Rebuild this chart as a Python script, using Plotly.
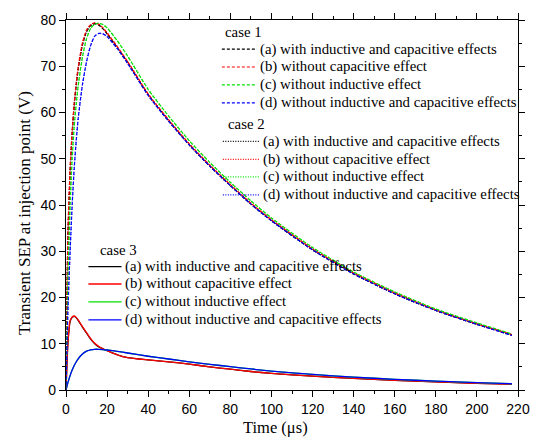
import plotly.graph_objects as go

# Time axis (µs)
t = [0, 0.5, 1, 2, 3, 4, 5, 6, 8, 10, 12, 14, 16, 18, 20, 25, 30, 40, 50, 60,
     70, 80, 90, 100, 120, 140, 160, 180, 200, 217]

# Case 1 (dashed)
c1_a = [0, 21, 34, 47, 55.5, 61.5, 66, 69.6, 74.6, 77.5, 78.8, 79.2, 78.9, 78.1, 77.0,
        74.0, 70.8, 63.8, 58.2, 53.0, 48.4, 44.2, 40.2, 36.6, 30.3, 25.1, 20.8, 17.2, 14.2, 11.9]
c1_b = [0, 22, 35, 48, 56, 62, 66.5, 70, 75, 77.8, 79, 79.4, 79.1, 78.3, 77.2,
        74.2, 71.0, 64.0, 58.4, 53.2, 48.6, 44.4, 40.4, 36.8, 30.5, 25.3, 21.0, 17.3, 14.3, 12.0]
c1_c = [0, 14, 25, 40, 50, 57, 62, 66, 72, 76, 78.2, 79.1, 79.3, 79.0, 78.3,
        75.5, 72.2, 65.0, 59.2, 53.9, 49.2, 44.9, 40.9, 37.2, 30.8, 25.5, 21.2, 17.5, 14.5, 12.1]
c1_d = [0, 10, 18, 30, 40, 48, 54, 59, 66, 71, 74.5, 76.5, 77.1, 77.0, 76.4,
        73.8, 70.6, 63.7, 58.1, 53.0, 48.4, 44.2, 40.2, 36.6, 30.3, 25.1, 20.8, 17.2, 14.2, 11.8]

# Case 2 (dotted)
c2_a = [0, 21, 34, 47, 55.5, 61.5, 66, 69.6, 74.6, 77.5, 78.8, 79.2, 78.9, 78.1, 77.0,
        74.0, 70.8, 63.8, 58.2, 53.0, 48.4, 44.2, 40.2, 36.6, 30.3, 25.1, 20.8, 17.2, 14.2, 11.9]
c2_b = [0, 22, 35, 48, 56, 62, 66.5, 70, 75, 77.8, 79, 79.4, 79.1, 78.3, 77.2,
        74.2, 71.0, 64.0, 58.4, 53.2, 48.6, 44.4, 40.4, 36.8, 30.5, 25.3, 21.0, 17.3, 14.3, 12.0]
c2_c = [0, 14, 25, 40, 50, 57, 62, 66, 72, 76, 78.2, 79.1, 79.3, 79.0, 78.3,
        75.5, 72.2, 65.0, 59.2, 53.9, 49.2, 44.9, 40.9, 37.2, 30.8, 25.5, 21.2, 17.5, 14.5, 12.1]
c2_d = [0, 10, 18, 30, 40, 48, 54, 59, 66, 71, 74.5, 76.5, 77.1, 77.0, 76.4,
        73.8, 70.6, 63.7, 58.1, 53.0, 48.4, 44.2, 40.2, 36.6, 30.3, 25.1, 20.8, 17.2, 14.2, 11.8]

# Case 3 (solid)
c3_a = [0, 6, 10.5, 14.8, 15.7, 15.9, 15.6, 15.0, 13.6, 12.3, 11.0, 10.0, 9.3, 8.9, 8.5,
        7.6, 7.0, 6.5, 6.1, 5.6, 5.0, 4.5, 4.0, 3.6, 3.0, 2.5, 2.1, 1.75, 1.45, 1.25]
c3_b = [0, 6.2, 10.8, 15.0, 15.8, 16.0, 15.7, 15.1, 13.7, 12.4, 11.1, 10.1, 9.4, 8.9, 8.5,
        7.6, 7.0, 6.5, 6.1, 5.6, 5.0, 4.5, 4.0, 3.6, 3.0, 2.5, 2.1, 1.75, 1.45, 1.25]
c3_c = [0, 0.9, 1.7, 3.1, 4.3, 5.3, 6.1, 6.8, 7.8, 8.4, 8.7, 8.8, 8.8, 8.75, 8.65,
        8.35, 8.0, 7.3, 6.7, 6.1, 5.55, 5.05, 4.55, 4.1, 3.37, 2.79, 2.31, 1.91, 1.58, 1.35]
c3_d = [0, 0.9, 1.7, 3.1, 4.3, 5.3, 6.1, 6.8, 7.8, 8.4, 8.7, 8.8, 8.8, 8.75, 8.65,
        8.35, 8.0, 7.3, 6.7, 6.1, 5.55, 5.05, 4.55, 4.1, 3.37, 2.79, 2.31, 1.91, 1.58, 1.35]

labels = ["(a) with inductive and capacitive effects",
          "(b) without capacitive effect",
          "(c) without inductive effect",
          "(d) without inductive and capacitive effects"]
colors = ["#000000", "#ff0000", "#00e000", "#0000ff"]
case_titles = ["case 1", "case 2", "case 3"]

SERIF = "Liberation Serif, Times New Roman, serif"
SANS = "Liberation Sans, Arial, sans-serif"

W, H = 542, 445
ML, MR, MT, MB = 66, 12, 12, 55
PW, PH = W - ML - MR, H - MT - MB


def px(xp):
    return (xp - ML) / PW


def py(yp):
    return (H - MB - yp) / PH


fig = go.Figure()

styles = [
    ("3px,2px", 1.2),      # case 1
    ("1px,1.5px", 1.2),    # case 2
    ("solid", 1.3),        # case 3
]
all_cases = [
    [c1_a, c1_b, c1_c, c1_d],
    [c2_a, c2_b, c2_c, c2_d],
    [c3_a, c3_b, c3_c, c3_d],
]
for ci in [2, 1, 0]:
    dash, w = styles[ci]
    for y, lab, col in zip(all_cases[ci], labels, colors):
        fig.add_trace(go.Scatter(
            x=t, y=y, mode="lines", name=f"{case_titles[ci]} {lab}", showlegend=False,
            line=dict(color=col, width=w, dash=dash, shape="spline", smoothing=0.6),
        ))

# Hand-built legends (title position, row y positions, line x span, text x)
legend_layout = [
    dict(title=(227, 24), rows=[41.7, 60, 78.3, 96.7], line=(226, 262), text=264),
    dict(title=(230, 118), rows=[136, 154.3, 172.3, 190.7], line=(227, 265), text=267),
    dict(title=(99, 247), rows=[264, 281.7, 300, 318.3], line=(89, 123), text=126),
]
LEGFONT = dict(family=SERIF, size=14.8, color="black")
shapes = []
annotations = []
for ci, lg in enumerate(legend_layout):
    dash, w = styles[ci]
    annotations.append(dict(
        x=px(lg["title"][0]), y=py(lg["title"][1]), xref="paper", yref="paper",
        text=case_titles[ci], showarrow=False, xanchor="left", yanchor="middle", font=LEGFONT,
    ))
    for ry, lab, col in zip(lg["rows"], labels, colors):
        shapes.append(dict(
            type="line", xref="paper", yref="paper",
            x0=px(lg["line"][0]), x1=px(lg["line"][1]), y0=py(ry), y1=py(ry),
            line=dict(color=col, width=w, dash=dash),
        ))
        annotations.append(dict(
            x=px(lg["text"]), y=py(ry), xref="paper", yref="paper",
            text=lab, showarrow=False, xanchor="left", yanchor="middle", font=LEGFONT,
            xshift=-1,
        ))

# Axis titles
annotations.append(dict(
    x=px(281), y=py(428), xref="paper", yref="paper", text="Time (\u03bcs)",
    showarrow=False, xanchor="center", yanchor="middle",
    font=dict(family=SERIF, size=16.5, color="black"),
))
annotations.append(dict(
    x=px(24), y=py(209), xref="paper", yref="paper", text="Transient SEP at injection point (V)",
    showarrow=False, xanchor="center", yanchor="middle", textangle=-90,
    font=dict(family=SERIF, size=17, color="black"),
))

axis_common = dict(
    showline=True, linecolor="black", linewidth=1.2, mirror="ticks",
    ticks="outside", ticklen=6, tickwidth=1.2, tickcolor="black",
    showgrid=False, zeroline=False,
    tickfont=dict(family=SANS, size=14, color="black"),
)

fig.update_xaxes(
    range=[0, 220], dtick=20, tick0=0,
    minor=dict(dtick=10, ticks="outside", ticklen=3, tickwidth=1.2, tickcolor="black"),
    **axis_common,
)
fig.update_yaxes(
    range=[0, 80], dtick=10, tick0=0,
    minor=dict(dtick=5, ticks="outside", ticklen=3, tickwidth=1.2, tickcolor="black"),
    **axis_common,
)

fig.update_layout(
    width=W, height=H,
    margin=dict(l=ML, r=MR, t=MT, b=MB),
    plot_bgcolor="white", paper_bgcolor="white",
    showlegend=False,
    shapes=shapes,
    annotations=annotations,
)

fig.write_html("out.html")
